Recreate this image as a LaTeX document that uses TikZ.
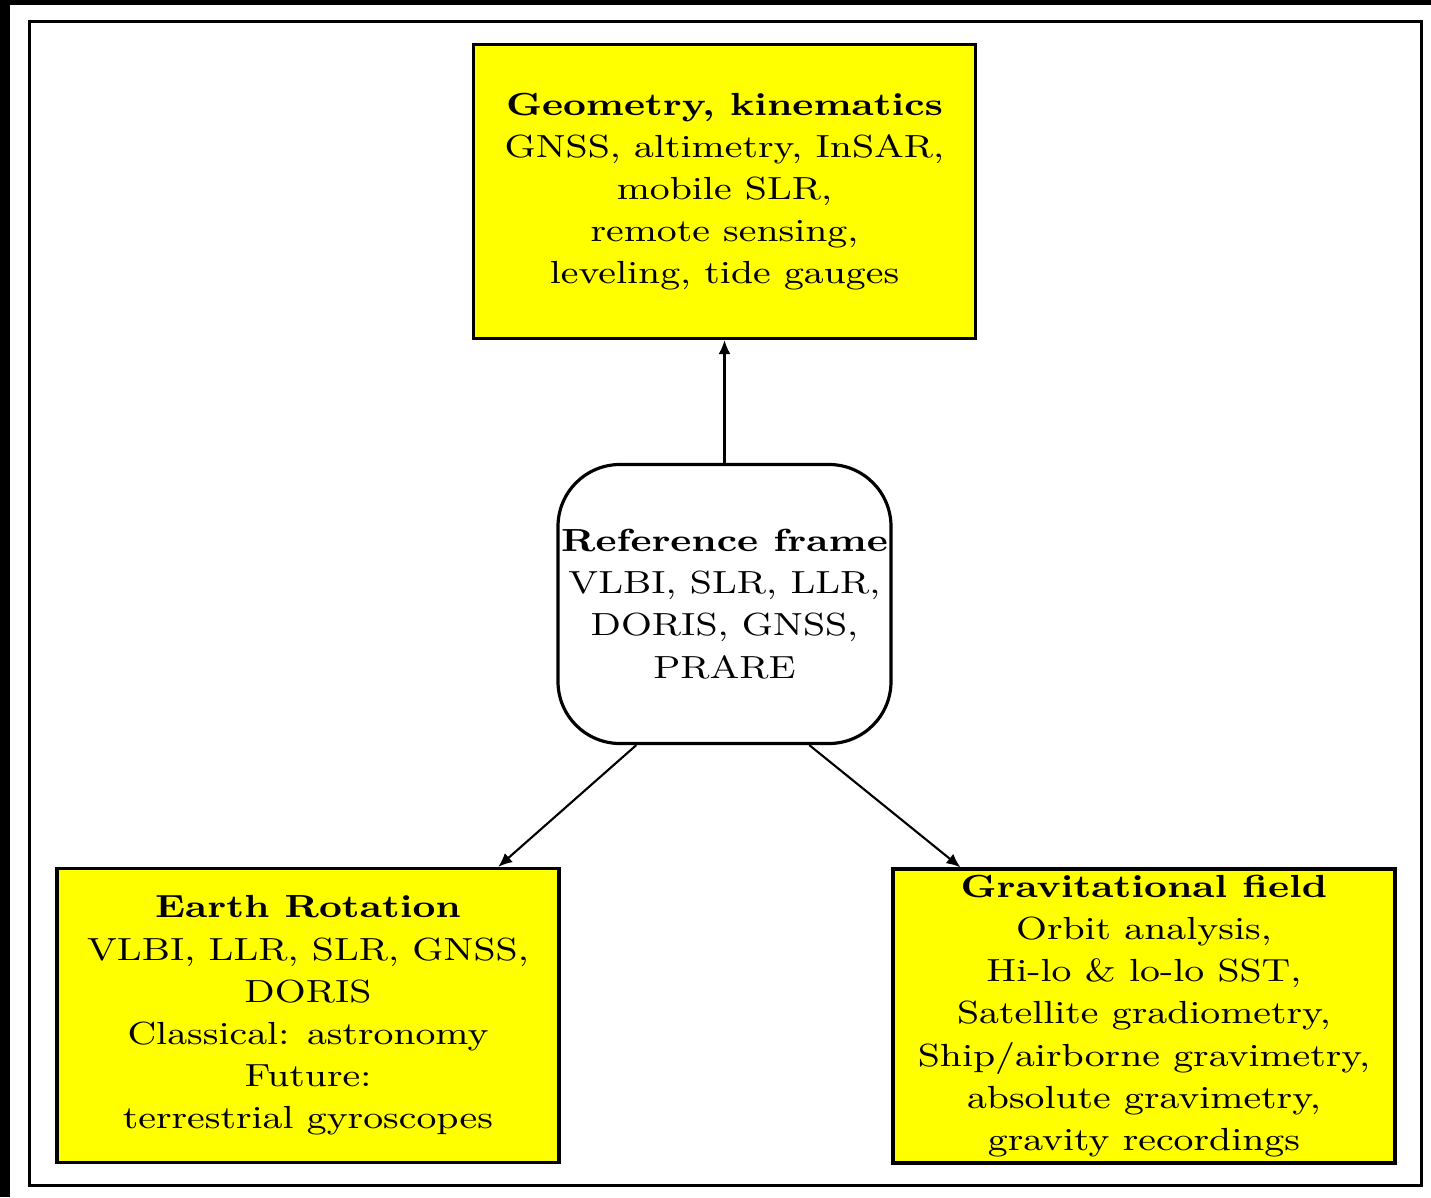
\documentclass[tikz,border=0pt]{standalone}
\usepackage{fontspec}
\setmainfont{Latin Modern Roman}[FakeStretch=1.21]
\usepackage{tikz}
\usetikzlibrary{arrows.meta}
\definecolor{boxyellow}{RGB}{255,255,0}
\tikzset{
every picture/.style={line width=0.9pt}
}
\tikzset{
  method/.style={draw, fill=boxyellow, align=center, inner sep=0pt,
    font=\fontsize{9.1}{12}\selectfont,
    minimum width=5.02cm, minimum height=2.94cm},
  frame/.style={draw, rounded corners=0.62cm, align=center, inner sep=0pt,
    font=\fontsize{9.1}{12}\selectfont,
    minimum width=3.33cm, minimum height=2.79cm},
  link/.style={line width=0.6pt, -{Latex[length=1.4mm,width=1.2mm]}}
}

\begin{document}
\begin{tikzpicture}
    \useasboundingbox (0,0) rectangle (14.31,11.97);
    \fill[white] (0,0) rectangle (14.31,11.97);
    \fill[black] (0,0) rectangle (0.10,11.97);
    \fill[black] (0,11.92) rectangle (14.31,11.97);
    \draw (0.295,0.115) rectangle (14.215,11.755);

    \node[method] (geom) at (7.245,10.055) {\textbf{Geometry, kinematics}\\
      GNSS, altimetry, InSAR,\\ mobile SLR,\\ remote sensing,\\ leveling, tide gauges};
    \node[frame] (ref) at (7.245,5.93) {\textbf{Reference frame}\\
      VLBI, SLR, LLR,\\ DORIS, GNSS,\\ PRARE};
    \node[method] (earth) at (3.08,1.815) {\textbf{Earth Rotation}\\
      VLBI, LLR, SLR, GNSS,\\ DORIS\\ Classical: astronomy\\ Future:\\ terrestrial gyroscopes};
    \node[method] (grav) at (11.44,1.81) {\textbf{Gravitational field}\\
      Orbit analysis,\\ Hi-lo \& lo-lo SST,\\ Satellite gradiometry,\\
      Ship/airborne gravimetry,\\ absolute gravimetry,\\ gravity recordings};

    \draw[link] (ref.north) -- (geom.south);
    \draw[link] (ref.238.6) -- (earth.38.5);
    \draw[link] (ref.301.4) -- (grav.141.9);
\end{tikzpicture}
\end{document}
